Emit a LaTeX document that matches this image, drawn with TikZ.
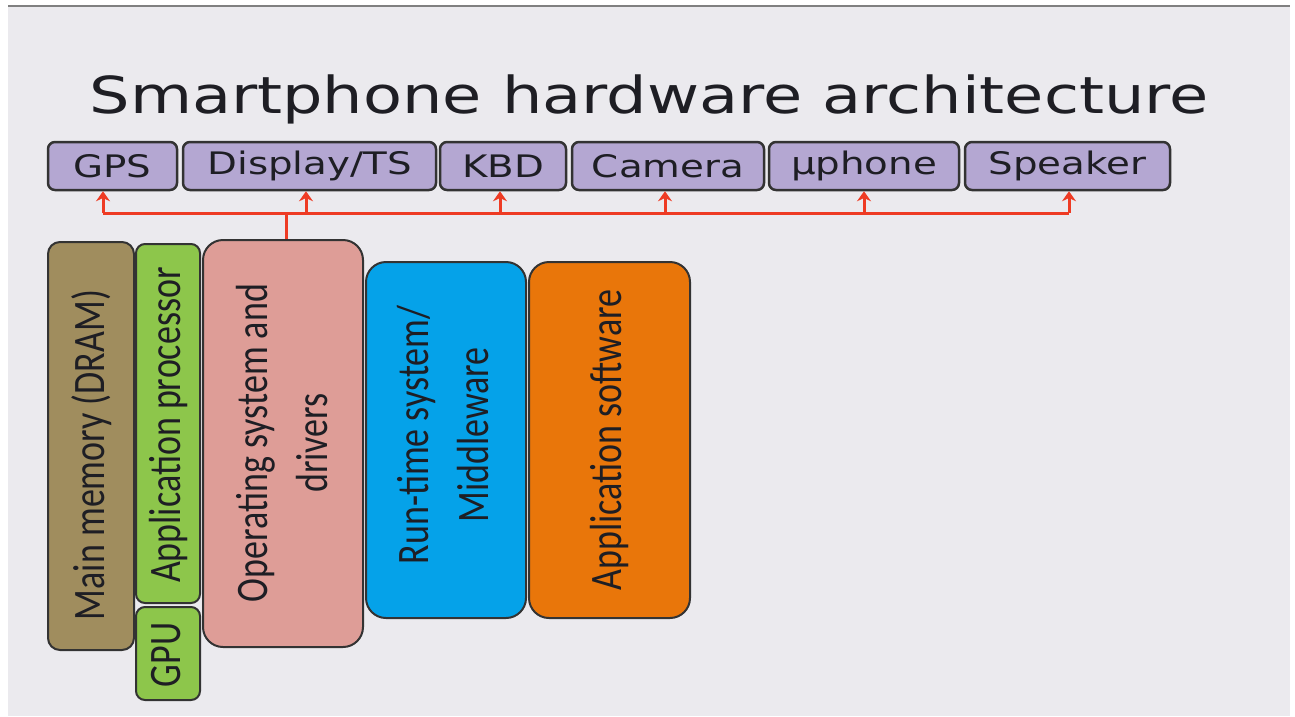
\documentclass[tikz,border=0pt]{standalone}
\usepackage{fontspec}
\usepackage{graphicx}
\setmainfont{DejaVu Sans}
\newfontfamily\condfont{Carlito}
\usetikzlibrary{arrows.meta}
\definecolor{slidebg}{HTML}{EBEAEE}
\definecolor{lav}{HTML}{B4A7D2}
\definecolor{brownbox}{HTML}{A08D5E}
\definecolor{greenbox}{HTML}{8DC64B}
\definecolor{pinkbox}{HTML}{DE9D97}
\definecolor{bluebox}{HTML}{05A2E9}
\definecolor{orangebox}{HTML}{E9760A}
\definecolor{busred}{HTML}{EE3B24}
\definecolor{edge}{HTML}{333333}
\definecolor{ink}{HTML}{1E1E24}
\newcommand{\wide}[1]{\scalebox{1.25}[1]{#1}}
\newcommand{\vlab}[1]{\scalebox{1}[1.25]{\begin{tabular}{@{}c@{}}#1\end{tabular}}}
\tikzset{
  topbox/.style={draw=edge, line width=2.5pt, rounded corners=7pt, fill=lav, minimum height=48pt, inner sep=0pt, text=ink, font=\fontsize{31}{36}\selectfont},
  colbox/.style={draw=edge, line width=2pt, inner sep=0pt},
  vtext/.style={rotate=90, inner sep=0pt, text=ink, font=\condfont\fontsize{36}{48}\selectfont},
  bus/.style={draw=busred, line width=3pt},
  busarrow/.style={bus, -{Stealth[length=10pt,width=14pt]}}
}
\begin{document}
\begin{tikzpicture}[x=1pt,y=-1pt]
\useasboundingbox (0,0) rectangle (1295,716);
\fill[white] (0,0) rectangle (1295,716);
\fill[slidebg] (8,7) rectangle (1290,716);
\draw[gray, line width=2pt] (8,6) -- (1290,6);

\node[text=ink, font=\fontsize{51}{60}\selectfont, inner sep=0pt] (title) at (649,99) {\wide{Smartphone hardware architecture}};

\node[topbox, minimum width=129pt] (gps) at (112.5,166) {\wide{GPS}};
\node[topbox, minimum width=253pt] (disp) at (309.5,166) {\wide{Display/TS}};
\node[topbox, minimum width=126pt] (kbd) at (503,166) {\wide{KBD}};
\node[topbox, minimum width=192pt] (cam) at (668,166) {\wide{Camera}};
\node[topbox, minimum width=190pt] (mic) at (864,166) {\wide{µphone}};
\node[topbox, minimum width=205pt] (spk) at (1067.5,166) {\wide{Speaker}};

\node[colbox, fill=brownbox, rounded corners=12pt, minimum width=86pt, minimum height=408pt] (mem) at (91,446) {};
\node[colbox, fill=greenbox, rounded corners=9pt, minimum width=64pt, minimum height=359pt] (ap) at (168,423.5) {};
\node[colbox, fill=greenbox, rounded corners=9pt, minimum width=64pt, minimum height=93pt] (gpu) at (168,653.5) {};
\node[colbox, fill=pinkbox, rounded corners=20pt, minimum width=160pt, minimum height=407pt] (os) at (283,443.5) {};
\node[colbox, fill=bluebox, rounded corners=20pt, minimum width=160pt, minimum height=356pt] (rts) at (446,440) {};
\node[colbox, fill=orangebox, rounded corners=20pt, minimum width=161pt, minimum height=356pt] (aps) at (609.5,440) {};

\node[vtext] (memt) at (92,455) {\vlab{Main memory (DRAM)}};
\node[vtext] (apt) at (168,425) {\vlab{Application processor}};
\node[vtext] (gput) at (168,655) {\vlab{GPU}};
\node[vtext] (ost) at (285,443) {\vlab{Operating system and\\drivers}};
\node[vtext] (rtst) at (446,435) {\vlab{Run-time system/\\Middleware}};
\node[vtext] (apst) at (609,440) {\vlab{Application software}};

\coordinate (hub) at (286,213);
\draw[bus] ([xshift=3pt]os.north) -- (hub);
\draw[bus] ([xshift=-9.5pt]gps.south |- hub) -- ([xshift=1.5pt]spk.south |- hub);
\foreach \n/\s in {gps/-9.5, disp/-3.5, kbd/-3, cam/-3, mic/0, spk/1.5}
  \draw[busarrow] ([xshift=\s pt]\n.south |- hub) -- ([xshift=\s pt]\n.south);
\end{tikzpicture}
\end{document}
